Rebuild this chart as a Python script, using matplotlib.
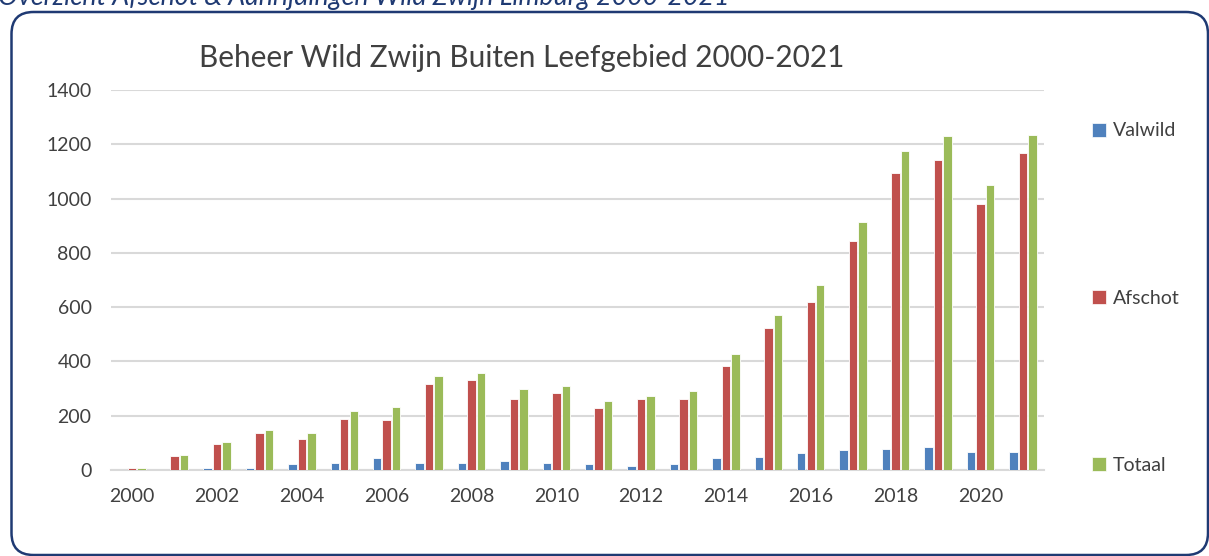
import numpy as np
import matplotlib
matplotlib.use('Agg')
import matplotlib.pyplot as plt
from matplotlib.patches import Patch, FancyBboxPatch

# Gegevens
jaren = list(range(2000, 2022))
valwild = [0, 0, 7, 7, 21, 27, 44, 27, 27, 34, 25, 22, 15, 22, 45, 48, 62, 72, 78, 84, 68, 65]
afschot = [7, 50, 94, 138, 116, 188, 185, 316, 330, 261, 283, 227, 260, 263, 382, 523, 620, 843, 1095, 1143, 980, 1168]
totaal = [8, 54, 102, 148, 138, 217, 231, 346, 358, 297, 309, 253, 273, 290, 428, 571, 682, 915, 1177, 1229, 1050, 1233]
reeksen = ['Valwild', 'Afschot', 'Totaal']
kleuren = ['#4F81BD', '#C0504D', '#9BBB59']
yticks = [0, 200, 400, 600, 800, 1000, 1200, 1400]
xticks = list(range(2000, 2021, 2))

plt.rcParams['font.family'] = ['Lato', 'DejaVu Sans']
tekst = '#404040'

fig = plt.figure(figsize=(12.09, 5.56), dpi=100)
ax = fig.add_axes([111 / 1209, 1 - 470 / 556, (1044 - 111) / 1209, (470 - 90) / 556])

x = np.array(jaren)
breedte = 0.2
for i, (serie, kleur) in enumerate(zip([valwild, afschot, totaal], kleuren)):
  ax.bar(x + (i - 1) * 0.224, serie, width=breedte, color=kleur,
         edgecolor='white', linewidth=0.6, zorder=3)

ax.set_xlim(1999.5, 2021.5)
ax.set_ylim(0, 1400)
ax.set_yticks(yticks)
ax.set_xticks(xticks)
ax.yaxis.grid(True, color='#D9D9D9', linewidth=1.5, zorder=0)
ax.tick_params(axis='both', length=0, labelsize=14, labelcolor=tekst)
ax.tick_params(axis='y', pad=14)
ax.tick_params(axis='x', pad=13)
for s in ['top', 'right', 'left']:
  ax.spines[s].set_visible(False)
ax.spines['bottom'].set_color('#D9D9D9')
ax.spines['bottom'].set_linewidth(1.5)

# Titel
fig.text(522 / 1209, 1 - 67 / 556, 'Beheer Wild Zwijn Buiten Leefgebied 2000-2021',
         ha='center', va='baseline', fontsize=21.4, color=tekst)

# Legenda rechts, ver uit elkaar zoals in Excel
handles = [Patch(facecolor=k, edgecolor='white', linewidth=0.5) for k in kleuren]
fig.legend(handles, reeksen, loc='upper left', bbox_to_anchor=(1074 / 1209, 1 - 105 / 556),
           frameon=False, fontsize=14, labelspacing=7.73, handlelength=0.75,
           handleheight=0.75, handletextpad=0.35, labelcolor=tekst)

# Bovenschrift (gedeeltelijk afgesneden, zoals in het origineel)
fig.text(-2 / 1209, 1 - 5 / 556, 'Overzicht Afschot & Aanrijdingen Wild Zwijn Limburg 2000-2021',
         ha='left', va='baseline', fontsize=19.3, style='italic', color='#1F3A73')

# Afgeronde rand om de grafiek
rand = FancyBboxPatch((0.115, 0.01), 12.08 - 0.115, 5.44 - 0.01,
                      boxstyle='round,pad=0,rounding_size=0.22',
                      transform=fig.dpi_scale_trans, facecolor='none',
                      edgecolor='#1F3A73', linewidth=1.8)
fig.patches.append(rand)

fig.savefig('out.png', dpi=100)
